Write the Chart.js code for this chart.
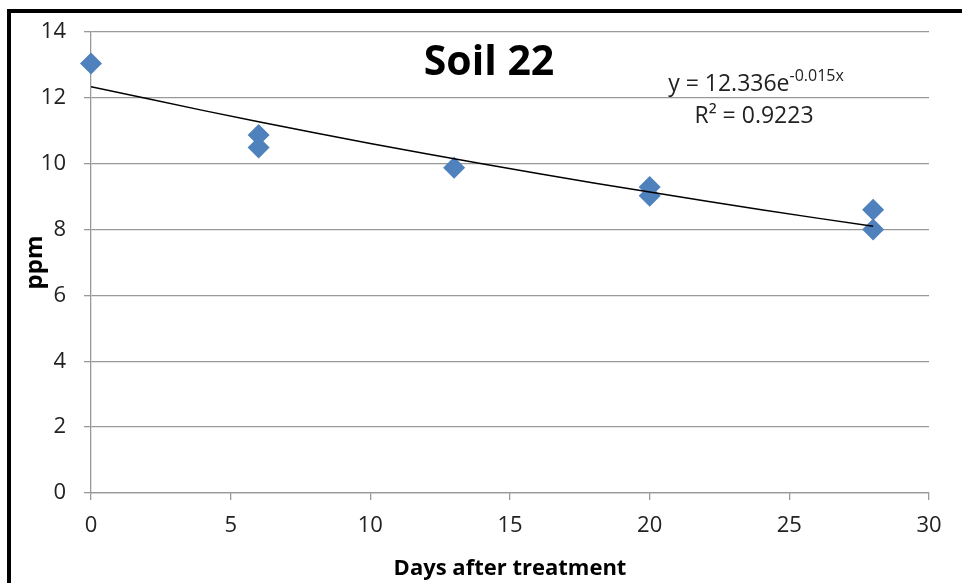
<!DOCTYPE html>
<html>
<head>
<meta charset="utf-8">
<script src="https://cdn.jsdelivr.net/npm/chart.js@4.4.0/dist/chart.umd.min.js"></script>
<style>
  html, body { margin: 0; padding: 0; background: #fff; }
  #wrap { width: 962px; height: 583px; }
</style>
</head>
<body>
<div id="wrap"><canvas id="c" width="962" height="583"></canvas></div>
<script>
// Observed data
const days = [0, 6, 6, 13, 20, 20, 28, 28];
const ppm = [13.04, 10.87, 10.49, 9.88, 9.29, 9.03, 8.60, 8.00];
// Trendline values
const trendDays = [0, 4, 8, 12, 16, 20, 24, 28];
const trendPpm = [12.34, 11.62, 10.94, 10.30, 9.70, 9.14, 8.60, 8.10];
// Ticks
const xTicks = [0, 5, 10, 15, 20, 25, 30];
const yTicks = [0, 2, 4, 6, 8, 10, 12, 14];
const chartTitle = 'Soil 22';
const eqMain = 'y = 12.336e';
const eqSup = '-0.015x';
const eqR2 = 'R\u00B2 = 0.9223';

const FONT = '"Open Sans", "Noto Sans", sans-serif';

const extras = {
  id: 'extras',
  beforeDraw(chart) {
    const ctx = chart.ctx;
    ctx.save();
    ctx.fillStyle = '#fff';
    ctx.fillRect(0, 0, chart.width, chart.height);
    ctx.fillStyle = '#000';
    ctx.fillRect(7, 9, chart.width - 7, 4);
    ctx.fillRect(7, 9, 4, chart.height - 9);
    ctx.restore();
  },
  afterDraw(chart) {
    const ctx = chart.ctx;
    ctx.save();
    ctx.fillStyle = '#000';
    ctx.textAlign = 'center';
    ctx.textBaseline = 'middle';
    ctx.font = 'bold 41px ' + FONT;
    ctx.fillText(chartTitle, 489, 63);

    ctx.fillStyle = '#222';
    ctx.textBaseline = 'alphabetic';
    ctx.textAlign = 'left';
    ctx.font = '23px ' + FONT;
    const w1 = ctx.measureText(eqMain).width;
    ctx.font = '16px ' + FONT;
    const w2 = ctx.measureText(eqSup).width;
    const x0 = 756 - (w1 + w2) / 2;
    ctx.font = '23px ' + FONT;
    ctx.fillText(eqMain, x0, 91);
    ctx.font = '16px ' + FONT;
    ctx.fillText(eqSup, x0 + w1, 81);
    ctx.textAlign = 'center';
    ctx.font = '23px ' + FONT;
    ctx.fillText(eqR2, 754, 123);
    ctx.restore();
  }
};

new Chart(document.getElementById('c'), {
  type: 'scatter',
  data: {
    datasets: [
      {
        label: 'Trend',
        type: 'line',
        data: trendDays.map((d, i) => ({ x: d, y: trendPpm[i] })),
        borderColor: '#000',
        borderWidth: 1.5,
        pointRadius: 0,
        fill: false,
        tension: 0.3
      },
      {
        label: 'ppm',
        data: days.map((d, i) => ({ x: d, y: ppm[i] })),
        pointStyle: 'rectRot',
        pointRadius: 11,
        backgroundColor: '#4F81BD',
        borderColor: '#4F81BD',
        borderWidth: 0,
        clip: false
      }
    ]
  },
  options: {
    responsive: false,
    animation: false,
    layout: { padding: { left: 0, top: 32, right: 33, bottom: 0 } },
    plugins: {
      legend: { display: false },
      tooltip: { enabled: false }
    },
    scales: {
      x: {
        type: 'linear',
        min: 0, max: 30,
        afterBuildTicks(scale) { scale.ticks = xTicks.map(v => ({ value: v })); },
        afterFit(scale) { scale.height = 90; },
        grid: { drawOnChartArea: false, drawTicks: true, tickLength: 7, color: '#999', lineWidth: 1.3 },
        border: { display: true, color: '#999', width: 1.3 },
        ticks: { color: '#222', font: { family: FONT, size: 22 }, padding: 13, maxRotation: 0 },
        title: { display: true, text: 'Days after treatment', color: '#000', font: { family: FONT, size: 22, weight: 'bold' }, padding: { top: 0, bottom: 1 } }
      },
      y: {
        type: 'linear',
        min: 0, max: 14,
        afterBuildTicks(scale) { scale.ticks = yTicks.map(v => ({ value: v })); },
        afterFit(scale) { scale.width = 91; },
        grid: { drawOnChartArea: true, drawTicks: true, tickLength: 7, color: '#999', lineWidth: 1.3 },
        border: { display: true, color: '#999', width: 1.3 },
        ticks: { color: '#222', font: { family: FONT, size: 22 }, padding: 18 },
        title: { display: true, text: 'ppm', color: '#000', font: { family: FONT, size: 24, weight: 'bold' }, padding: { top: 21, bottom: 0 } }
      }
    }
  },
  plugins: [extras]
});
</script>
</body>
</html>
